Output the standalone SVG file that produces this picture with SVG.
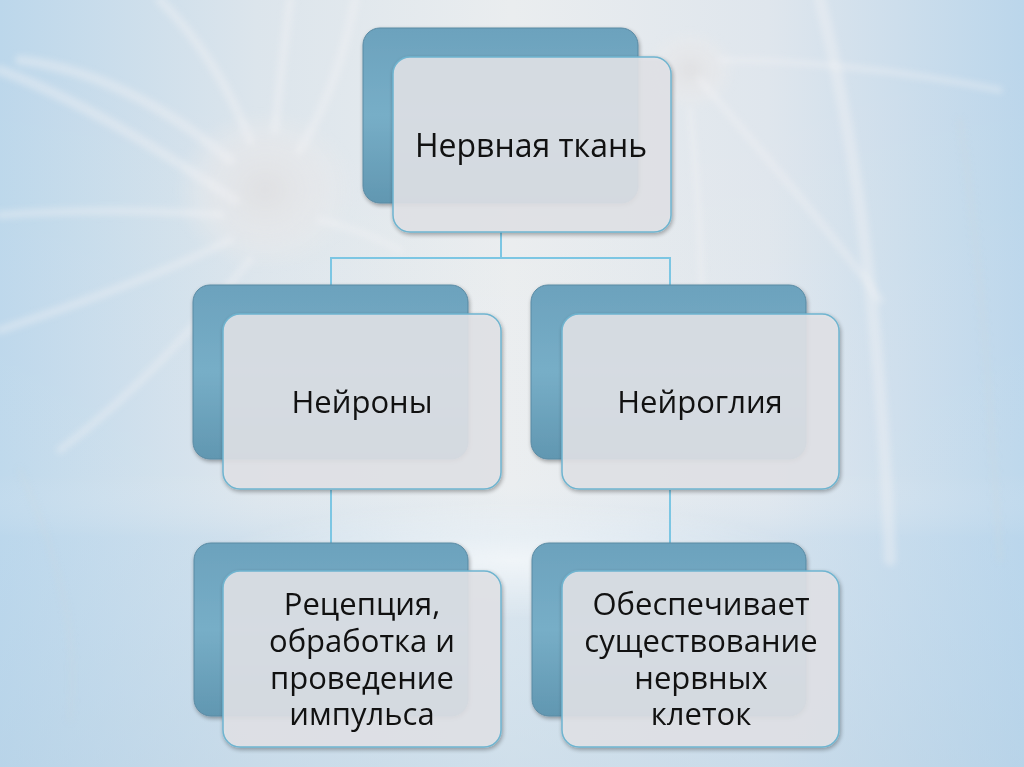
<svg xmlns="http://www.w3.org/2000/svg" width="1024" height="767" viewBox="0 0 1024 767">
  <defs>
    <linearGradient id="bgH" x1="0" y1="0" x2="1" y2="0">
      <stop offset="0" stop-color="#bcd7eb"/>
      <stop offset="0.25" stop-color="#dce5ec"/>
      <stop offset="0.5" stop-color="#eaedef"/>
      <stop offset="0.75" stop-color="#dfe6ed"/>
      <stop offset="1" stop-color="#bbd6eb"/>
    </linearGradient>
    <linearGradient id="bgV" x1="0" y1="0" x2="0" y2="1">
      <stop offset="0" stop-color="#ffffff" stop-opacity="0"/>
      <stop offset="0.62" stop-color="#ffffff" stop-opacity="0.05"/>
      <stop offset="0.7" stop-color="#b9d7ee" stop-opacity="0.3"/>
      <stop offset="1" stop-color="#b5d1e6" stop-opacity="0.5"/>
    </linearGradient>
    <radialGradient id="soma" cx="0.5" cy="0.5" r="0.5">
      <stop offset="0" stop-color="#e0e0e2" stop-opacity="0.9"/>
      <stop offset="0.6" stop-color="#e8e8ea" stop-opacity="0.6"/>
      <stop offset="1" stop-color="#eeeeee" stop-opacity="0"/>
    </radialGradient>
    <radialGradient id="glow" cx="0.5" cy="0.5" r="0.5">
      <stop offset="0" stop-color="#ffffff" stop-opacity="0.6"/>
      <stop offset="1" stop-color="#ffffff" stop-opacity="0"/>
    </radialGradient>
    <linearGradient id="backFill" x1="0" y1="0" x2="0" y2="1">
      <stop offset="0" stop-color="#6ca2bd"/>
      <stop offset="0.5" stop-color="#77aec7"/>
      <stop offset="1" stop-color="#6197b1"/>
    </linearGradient>
    <filter id="shadow" x="-10%" y="-10%" width="125%" height="125%">
      <feGaussianBlur in="SourceAlpha" stdDeviation="2"/>
      <feOffset dx="1" dy="2" result="o"/>
      <feComponentTransfer><feFuncA type="linear" slope="0.35"/></feComponentTransfer>
      <feMerge><feMergeNode/><feMergeNode in="SourceGraphic"/></feMerge>
    </filter>
    <filter id="blur6"><feGaussianBlur stdDeviation="3"/></filter>
  </defs>
  <style>
    .back { fill: url(#backFill); stroke: #5a8aa3; stroke-width: 1; filter: url(#shadow); }
    .front { fill: #e2e4e8; fill-opacity: 0.88; stroke: #6fb4cf; stroke-width: 1.5; filter: url(#shadow); }
    .lbl { font-family: "Open Sans", "Noto Sans", "DejaVu Sans", sans-serif; font-size: 31px; fill: #111111; text-anchor: middle; }
    .big { font-size: 32px; }
    .conn { fill: none; stroke: #7cc6e3; stroke-width: 2; }
    .dend { fill: none; stroke: #f2f3f4; stroke-linecap: round; opacity: 0.4; }
    .dendg { fill: none; stroke: #cfd6dc; stroke-linecap: round; opacity: 0.35; }
  </style>

  <!-- background -->
  <rect x="0" y="0" width="1024" height="767" fill="url(#bgH)"/>
  <rect x="0" y="0" width="1024" height="767" fill="url(#bgV)"/>
  <g id="neurons" filter="url(#blur6)">
    <ellipse cx="265" cy="190" rx="90" ry="80" fill="url(#soma)"/>
    <path class="dend" stroke-width="10" d="M230 160 C170 110 100 70 20 60"/>
    <path class="dend" stroke-width="10" d="M235 200 C160 150 80 100 0 70"/>
    <path class="dend" stroke-width="9" d="M250 140 C230 90 200 40 160 0"/>
    <path class="dend" stroke-width="9" d="M275 130 C280 80 285 40 290 0"/>
    <path class="dend" stroke-width="9" d="M300 150 C330 100 345 50 355 0"/>
    <path class="dend" stroke-width="8" d="M220 215 C150 210 70 210 0 215"/>
    <path class="dend" stroke-width="8" d="M230 240 C170 270 90 300 0 330"/>
    <path class="dend" stroke-width="7" d="M250 260 C200 320 140 390 60 450"/>
    <path class="dend" stroke-width="7" d="M320 220 C360 230 380 240 400 250"/>
    <ellipse cx="690" cy="70" rx="45" ry="40" fill="url(#soma)"/>
    <path class="dend" stroke-width="7" d="M700 80 C760 150 830 230 880 300"/>
    <path class="dend" stroke-width="12" d="M820 0 C850 120 880 300 890 560"/>
    <path class="dend" stroke-width="6" d="M720 60 C800 60 900 70 1000 90"/>
    <path class="dend" stroke-width="6" d="M690 110 C700 200 705 300 700 420"/>
    <path class="dendg" stroke-width="4" d="M960 120 C980 250 990 400 1000 560"/>
    <path class="dendg" stroke-width="3" d="M20 470 C60 560 80 640 70 720"/>
  </g>
  <ellipse cx="512" cy="560" rx="300" ry="60" fill="url(#glow)"/>

  <!-- connectors -->
  <g id="connectors">
    <path class="conn" d="M501 232 V258 M331 285 V258 H670 V285"/>
    <path class="conn" d="M331 490 V543"/>
    <path class="conn" d="M670 490 V543"/>
  </g>

  <g id="node-top">
    <rect class="back" x="363" y="28" width="275" height="175" rx="17"/>
    <rect class="front" x="393" y="57" width="278" height="175" rx="17"/>
    <text class="lbl big" x="531" y="157">Нервная ткань</text>
  </g>

  <g id="node-neurons">
    <rect class="back" x="193" y="285" width="275" height="174" rx="17"/>
    <rect class="front" x="223" y="314" width="278" height="175" rx="17"/>
    <text class="lbl" x="362" y="413">Нейроны</text>
  </g>

  <g id="node-glia">
    <rect class="back" x="531" y="285" width="275" height="174" rx="17"/>
    <rect class="front" x="562" y="314" width="277" height="175" rx="17"/>
    <text class="lbl" x="700" y="413">Нейроглия</text>
  </g>

  <g id="node-neuron-func">
    <rect class="back" x="194" y="543" width="274" height="173" rx="17"/>
    <rect class="front" x="223" y="571" width="278" height="176" rx="17"/>
    <text class="lbl" x="362" y="615"><tspan x="362" y="615">Рецепция,</tspan><tspan x="362" y="652">обработка и</tspan><tspan x="362" y="689">проведение</tspan><tspan x="362" y="725">импульса</tspan></text>
  </g>

  <g id="node-glia-func">
    <rect class="back" x="532" y="543" width="274" height="173" rx="17"/>
    <rect class="front" x="562" y="571" width="277" height="176" rx="17"/>
    <text class="lbl" x="701" y="615"><tspan x="701" y="615">Обеспечивает</tspan><tspan x="701" y="652">существование</tspan><tspan x="701" y="689">нервных</tspan><tspan x="701" y="725">клеток</tspan></text>
  </g>
</svg>
